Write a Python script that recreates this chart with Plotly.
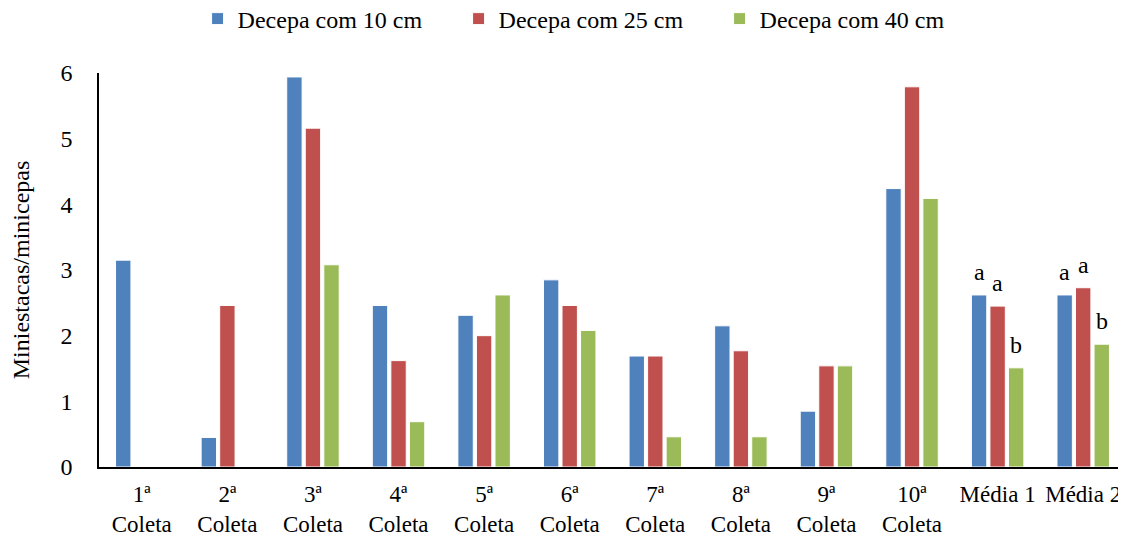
import plotly.graph_objects as go

categories = ["1ª<br>Coleta", "2ª<br>Coleta", "3ª<br>Coleta", "4ª<br>Coleta", "5ª<br>Coleta",
              "6ª<br>Coleta", "7ª<br>Coleta", "8ª<br>Coleta", "9ª<br>Coleta", "10ª<br>Coleta",
              "Média 1", "Média 2"]
series_names = ["Decepa com 10 cm", "Decepa com 25 cm", "Decepa com 40 cm"]
v10 = [3.15, 0.45, 5.94, 2.46, 2.31, 2.85, 1.69, 2.15, 0.85, 4.24, 2.62, 2.62]
v25 = [0, 2.46, 5.16, 1.62, 2.00, 2.46, 1.69, 1.77, 1.54, 5.79, 2.45, 2.73]
v40 = [0, 0, 3.08, 0.69, 2.62, 2.08, 0.46, 0.46, 1.54, 4.09, 1.51, 1.87]
letters10 = [""] * 10 + ["a", "a"]
letters25 = [""] * 10 + ["a", "a"]
letters40 = [""] * 10 + ["b", "b"]
colors = ["#4F81BD", "#C0504D", "#9BBB59"]

FONT = "Liberation Serif"
# page body has an 8px default margin, so the figure is sized to fill the rest
W, H = 1118, 528
ML, MR, MT, MB = 91, 0, 65, 69
BARGAP = 0.35

fig = go.Figure()
for name, vals, col in zip(series_names, [v10, v25, v40], colors):
    fig.add_trace(go.Bar(
        x=categories, y=vals, name=name,
        marker=dict(color=col, line=dict(color="white", width=1)),
    ))

# significance letters above the mean bars
cat_px = (W - ML - MR) / len(categories)
slot_px = cat_px * (1 - BARGAP) / 3
for k, (vals, letters) in enumerate(zip([v10, v25, v40], [letters10, letters25, letters40])):
    for c, v, t in zip(categories, vals, letters):
        if t:
            fig.add_annotation(x=c, y=v, text=t, showarrow=False, yanchor="bottom",
                               xshift=(k - 1) * slot_px, yshift=8,
                               font=dict(family=FONT, size=24, color="black"))

fig.update_layout(
    width=W, height=H,
    margin=dict(l=ML, r=MR, t=MT, b=MB, autoexpand=False),
    paper_bgcolor="white", plot_bgcolor="white",
    barmode="group", bargap=BARGAP, bargroupgap=0.17,
    font=dict(family=FONT, size=24, color="black"),
    legend=dict(orientation="h", x=0.096, xanchor="left", y=1.137, yanchor="middle",
                font=dict(family=FONT, size=24, color="black"), traceorder="normal",
                entrywidth=216, entrywidthmode="pixels"),
)
fig.update_xaxes(showline=True, linecolor="black", linewidth=1.5, ticks="",
                 showgrid=False, automargin=False, ticklabelstandoff=6,
                 tickfont=dict(family=FONT, size=23))
fig.update_yaxes(range=[0, 6], dtick=1, showline=True, linecolor="black", linewidth=1.5,
                 showgrid=False, zeroline=False, ticks="", ticklabelstandoff=20,
                 automargin=False, tickfont=dict(family=FONT, size=24),
                 title=dict(text="Miniestacas/minicepas", font=dict(family=FONT, size=24),
                            standoff=30))
fig.write_html("out.html")
